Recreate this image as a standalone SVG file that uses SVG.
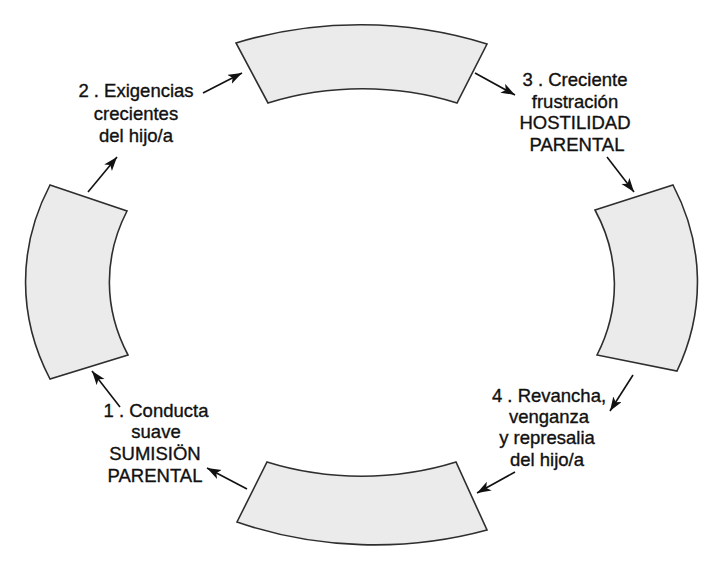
<svg xmlns="http://www.w3.org/2000/svg" width="718" height="563" viewBox="0 0 718 563">
<style>
.seg{fill:#ebebeb;stroke:#2e2e2e;stroke-width:1.6;stroke-linejoin:miter}
.arr{stroke:#111;stroke-width:1.6;fill:none;marker-end:url(#ah)}
.lbl{font-family:"Liberation Sans",Arial,sans-serif;font-size:18.5px;fill:#111;stroke:#111;stroke-width:0.35;text-anchor:middle}
</style>
<defs>
<marker id="ah" markerUnits="userSpaceOnUse" markerWidth="16" markerHeight="12" refX="14" refY="5" orient="auto">
<path d="M0,0 L14,5 L0,10 L3.5,5 Z" fill="#111"/>
</marker>
</defs>
<rect width="718" height="563" fill="#fff"/>
<g id="seg-top"><path class="seg" d="M236,43 A336,259 0 0 1 487,44 L457,103 A251,193 0 0 0 268,103 Z"/></g>
<g id="seg-right"><path class="seg" d="M595,210 L673,185 A336,259 0 0 1 677,371 L597,355 A251,193 0 0 0 595,210 Z"/></g>
<g id="seg-bottom"><path class="seg" d="M267,462 A251,193 0 0 0 456,462 L487,530 A336,259 0 0 1 237,522 Z"/></g>
<g id="seg-left"><path class="seg" d="M50,185 L127,211 A251,193 0 0 0 128,355 L50,379 A336,259 0 0 1 50,185 Z"/></g>
<g id="connectors">
<line class="arr" x1="88" y1="192" x2="117" y2="157"/>
<line class="arr" x1="203" y1="93" x2="242" y2="73"/>
<line class="arr" x1="475" y1="73" x2="515" y2="95"/>
<line class="arr" x1="607" y1="157" x2="634" y2="192"/>
<line class="arr" x1="633" y1="375" x2="610" y2="411"/>
<line class="arr" x1="515" y1="472" x2="477" y2="493"/>
<line class="arr" x1="247" y1="489" x2="207" y2="468"/>
<line class="arr" x1="120" y1="407" x2="92" y2="371"/>
</g>
<g id="label-1">
<text class="lbl" x="156" y="417">1 . Conducta</text>
<text class="lbl" x="156" y="438">suave</text>
<text class="lbl" x="155" y="460">SUMISIÖN</text>
<text class="lbl" x="155" y="482">PARENTAL</text>
</g>
<g id="label-2">
<text class="lbl" x="136" y="97">2 . Exigencias</text>
<text class="lbl" x="136" y="120">crecientes</text>
<text class="lbl" x="136" y="142">del hijo/a</text>
</g>
<g id="label-3">
<text class="lbl" x="575" y="86">3 . Creciente</text>
<text class="lbl" x="575" y="108">frustración</text>
<text class="lbl" x="575" y="129">HOSTILIDAD</text>
<text class="lbl" x="577" y="151">PARENTAL</text>
</g>
<g id="label-4">
<text class="lbl" x="549" y="402">4 . Revancha,</text>
<text class="lbl" x="549" y="423">venganza</text>
<text class="lbl" x="547" y="444">y represalia</text>
<text class="lbl" x="547" y="466">del hijo/a</text>
</g>
</svg>
